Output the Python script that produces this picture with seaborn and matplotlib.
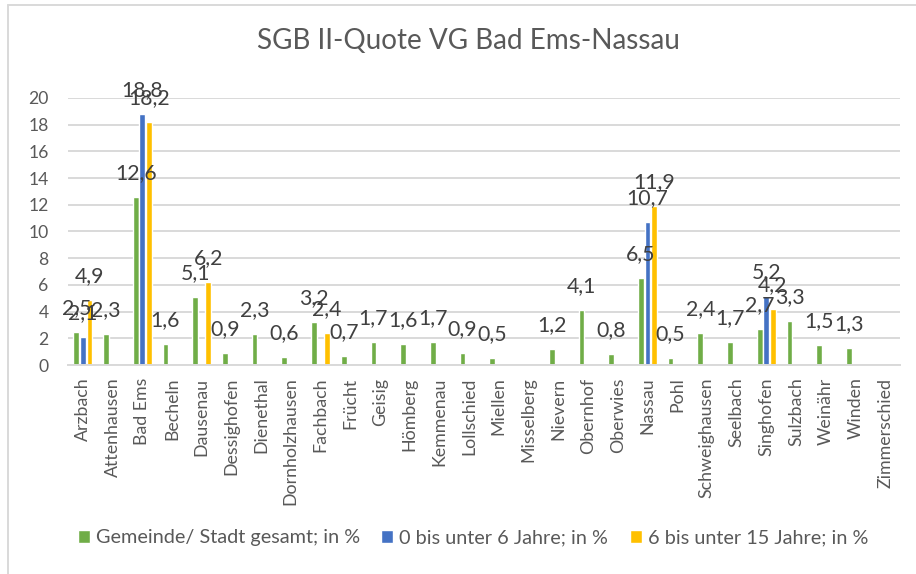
import numpy as np
import pandas as pd
import matplotlib
matplotlib.use("Agg")
import matplotlib.pyplot as plt
from matplotlib.lines import Line2D
import seaborn as sns

categories = ["Arzbach", "Attenhausen", "Bad Ems", "Becheln", "Dausenau", "Dessighofen",
              "Dienethal", "Dornholzhausen", "Fachbach", "Frücht", "Geisig", "Hömberg",
              "Kemmenau", "Lollschied", "Miellen", "Misselberg", "Nievern", "Obernhof",
              "Oberwies", "Nassau", "Pohl", "Schweighausen", "Seelbach", "Singhofen",
              "Sulzbach", "Weinähr", "Winden", "Zimmerschied"]
nan = np.nan
gesamt = [2.5, 2.3, 12.6, 1.6, 5.1, 0.9, 2.3, 0.6, 3.2, 0.7, 1.7, 1.6, 1.7, 0.9, 0.5, nan,
          1.2, 4.1, 0.8, 6.5, 0.5, 2.4, 1.7, 2.7, 3.3, 1.5, 1.3, nan]
unter6 = [2.1, nan, 18.8, nan, nan, nan, nan, nan, nan, nan, nan, nan, nan, nan, nan, nan,
          nan, nan, nan, 10.7, nan, nan, nan, 5.2, nan, nan, nan, nan]
unter15 = [4.9, nan, 18.2, nan, 6.2, nan, nan, nan, 2.4, nan, nan, nan, nan, nan, nan, nan,
           nan, nan, nan, 11.9, nan, nan, nan, 4.2, nan, nan, nan, nan]
series_names = ["Gemeinde/ Stadt gesamt; in %", "0 bis unter 6 Jahre; in %",
                "6 bis unter 15 Jahre; in %"]
colors = ["#70AD47", "#4472C4", "#FFC000"]
title = "SGB II-Quote VG Bad Ems-Nassau"
yticks = [0, 2, 4, 6, 8, 10, 12, 14, 16, 18, 20]

rows = []
for name, vals in zip(series_names, [gesamt, unter6, unter15]):
    for c, v in zip(categories, vals):
        rows.append({"Gemeinde": c, "Serie": name, "Wert": v})
df = pd.DataFrame(rows).dropna()

sns.set_theme(style="white")
plt.rcParams["font.family"] = ["Lato", "DejaVu Sans"]

W, H = 916, 574
fig = plt.figure(figsize=(W / 100, H / 100), dpi=100)
ax = fig.add_axes([68 / W, 1 - 365 / H, (900 - 68) / W, (365 - 98) / H])

sns.barplot(data=df, x="Gemeinde", y="Wert", hue="Serie", order=categories,
            hue_order=series_names, palette=colors, errorbar=None,
            width=0.66, gap=0.12, saturation=1, ax=ax)

for cont in ax.containers:
    labs = [f"{v:.1f}".replace(".", ",") for v in cont.datavalues]
    ax.bar_label(cont, labels=labs, padding=10, fontsize=15.3, color="#404040")

ax.set_ylim(0, 20)
ax.set_xlim(-0.5, len(categories) - 0.5)
ax.set_yticks(yticks)
ax.set_yticklabels([str(t) for t in yticks])
ax.set_xlabel("")
ax.set_ylabel("")
ax.tick_params(axis="y", length=0, pad=14, labelsize=12.6, labelcolor="#595959")
ax.tick_params(axis="x", length=0, pad=9, labelsize=12.8, labelcolor="#595959",
               labelrotation=90)
ax.yaxis.grid(True, color="#D9D9D9", linewidth=1.4)
ax.set_axisbelow(True)
for s in ["top", "right", "left"]:
    ax.spines[s].set_visible(False)
ax.spines["bottom"].set_color("#D9D9D9")
ax.spines["bottom"].set_linewidth(1.4)

sns.move_legend(ax, "center", bbox_to_anchor=(473 / W, 1 - 538 / H),
                bbox_transform=fig.transFigure, ncol=3, frameon=False, title=None,
                fontsize=14.3, handlelength=0.6, handleheight=0.6,
                handletextpad=0.3, columnspacing=1.1)
for t in ax.get_legend().get_texts():
    t.set_color("#595959")

fig.text(468 / W, 1 - 41 / H, title, ha="center", va="center", fontsize=20.1,
         color="#595959")

fig.add_artist(Line2D([8 / W, 8 / W], [-0.1, 1 - 5 / H], transform=fig.transFigure,
                      color="#D9D9D9", linewidth=1.4))
fig.add_artist(Line2D([8 / W, 1.1], [1 - 5 / H, 1 - 5 / H], transform=fig.transFigure,
                      color="#D9D9D9", linewidth=1.4))

fig.savefig("out.png", dpi=100)
